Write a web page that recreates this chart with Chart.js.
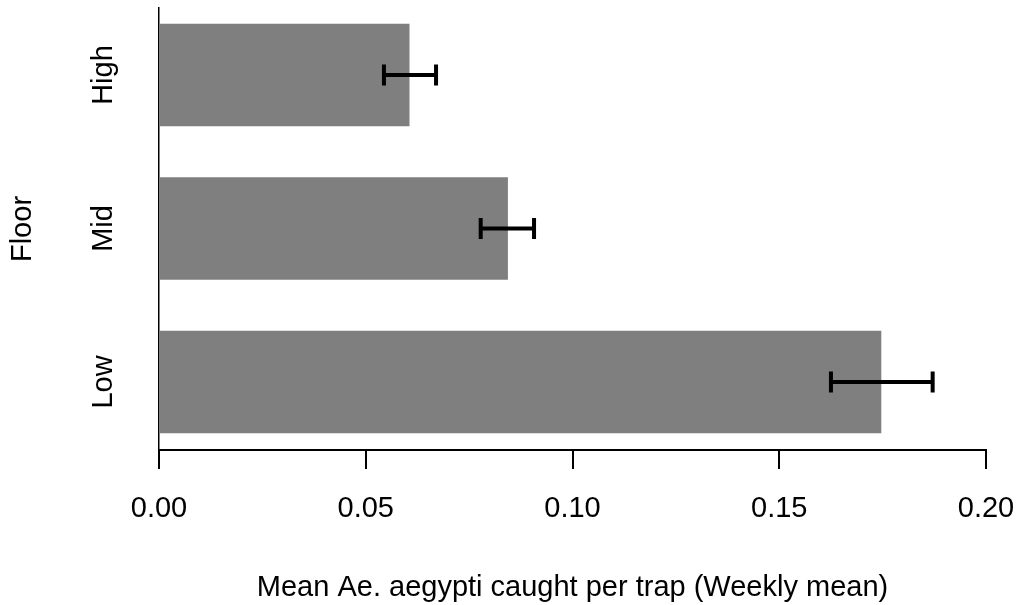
<!DOCTYPE html>
<html>
<head>
<meta charset="utf-8">
<script src="https://cdn.jsdelivr.net/npm/chart.js@4"></script>
<style>
  body { margin: 0; background: #fff; }
  #wrap { width: 1032px; height: 605px; }
</style>
</head>
<body>
<div id="wrap"><canvas id="floor-bar"></canvas></div>
<script>
// floors, bottom to top
var floors = ['Low', 'Mid', 'High'];
var floorPos = [0, 1, 2];
var meanCaught = [0.1746, 0.0843, 0.0605];
var errLower = [0.1625, 0.0778, 0.0544];
var errUpper = [0.1871, 0.0907, 0.0670];
var xTicks = [0, 0.05, 0.10, 0.15, 0.20];

var FONT = 'Liberation Sans, Arial, sans-serif';
var FSIZE = 29;

var barData = [];
for (let i in floors) {
    barData.push({ x: meanCaught[i], y: floorPos[i] });
}

// error bars + rotated category names
const errorBars = {
    id: 'errorBars',
    afterDatasetsDraw(chart) {
        const ctx = chart.ctx;
        const xs = chart.scales.x;
        const ys = chart.scales.y;
        ctx.save();
        ctx.strokeStyle = '#000';
        ctx.lineWidth = 4;
        for (let i in floors) {
            let y = ys.getPixelForValue(floorPos[i]);
            let x1 = xs.getPixelForValue(errLower[i]);
            let x2 = xs.getPixelForValue(errUpper[i]);
            ctx.beginPath();
            ctx.moveTo(x1, y);
            ctx.lineTo(x2, y);
            ctx.moveTo(x1, y - 10.5);
            ctx.lineTo(x1, y + 10.5);
            ctx.moveTo(x2, y - 10.5);
            ctx.lineTo(x2, y + 10.5);
            ctx.stroke();
        }
        ctx.restore();
    },
    afterDraw(chart) {
        const ctx = chart.ctx;
        const ys = chart.scales.y;
        ctx.save();
        ctx.fillStyle = '#000';
        ctx.font = FSIZE + 'px ' + FONT;
        ctx.textAlign = 'center';
        ctx.textBaseline = 'alphabetic';
        for (let i in floors) {
            ctx.save();
            ctx.translate(112, ys.getPixelForValue(floorPos[i]));
            ctx.rotate(-Math.PI / 2);
            ctx.fillText(floors[i], 0, 0);
            ctx.restore();
        }
        ctx.restore();
    }
};

new Chart(document.getElementById('floor-bar'), {
    type: 'bar',
    data: {
        datasets: [{
            data: barData,
            backgroundColor: '#7f7f7f',
            borderWidth: 0,
            barThickness: 102
        }]
    },
    options: {
        indexAxis: 'y',
        responsive: true,
        maintainAspectRatio: false,
        animation: false,
        layout: { padding: { top: 8, right: 46, left: 0, bottom: 0 } },
        plugins: {
            legend: { display: false },
            tooltip: { enabled: false }
        },
        scales: {
            x: {
                type: 'linear',
                min: xTicks[0],
                max: xTicks[xTicks.length - 1],
                afterBuildTicks: function(scale) {
                    scale.ticks = xTicks.map(v => ({ value: v }));
                },
                afterFit: function(scale) {
                    scale.height = 155;
                    scale.paddingLeft = 0;
                    scale.paddingRight = 0;
                },
                ticks: {
                    color: '#000',
                    padding: 23,
                    font: { family: FONT, size: FSIZE },
                    callback: function(v) { return Number(v).toFixed(2); }
                },
                grid: {
                    drawOnChartArea: false,
                    tickLength: 19,
                    color: '#000',
                    lineWidth: 2
                },
                border: { display: true, color: '#000', width: 2 },
                title: {
                    display: true,
                    text: 'Mean Ae. aegypti caught per trap (Weekly mean)',
                    color: '#000',
                    font: { family: FONT, size: FSIZE, lineHeight: 1.2 },
                    padding: { top: 0, bottom: 0 }
                }
            },
            y: {
                type: 'linear',
                offset: false,
                min: -0.443,
                max: 2.4365,
                afterFit: function(scale) { scale.width = 159; },
                ticks: { display: false },
                grid: { display: false },
                border: { display: true, color: '#000', width: 1.5 },
                title: {
                    display: true,
                    text: 'Floor',
                    color: '#000',
                    font: { family: FONT, size: FSIZE, lineHeight: 1.2 },
                    padding: { top: 6, bottom: 0 }
                }
            }
        }
    },
    plugins: [errorBars]
});
</script>
</body>
</html>
